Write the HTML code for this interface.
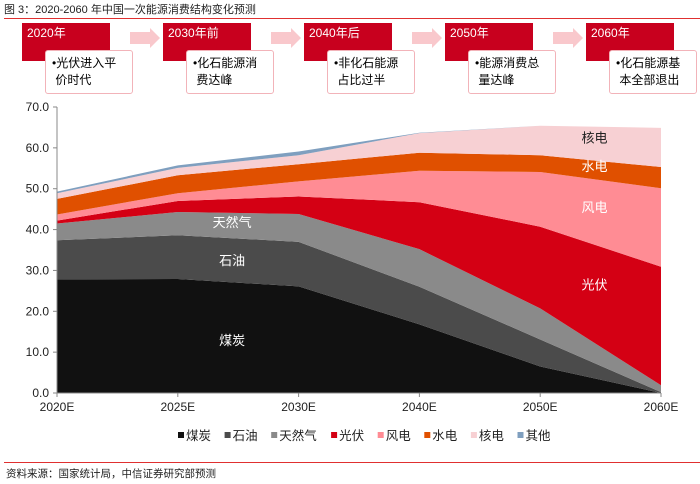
<!DOCTYPE html>
<html><head><meta charset="utf-8"><style>
body{margin:0;width:700px;height:484px;background:#fff;font-family:"Liberation Sans","Noto Sans CJK SC",sans-serif;position:relative;overflow:hidden}
.abs{position:absolute}
.rb{position:absolute;width:88px;height:38px;background:#c8001e;color:#fff;font-size:12px;line-height:20px;padding-left:5px;box-sizing:border-box;top:23px}
.wb{position:absolute;width:88px;height:44px;background:#fff;border:1px solid #f2b3b9;border-radius:3px;box-sizing:border-box;top:50px;font-size:12px;line-height:17px;padding:4px 3px 0 6px;color:#000}
</style></head><body>
<div class="abs" style="left:4px;top:1px;font-size:11px;color:#222">图 3：2020-2060 年中国一次能源消费结构变化预测</div>
<div class="abs" style="left:4px;top:18px;width:696px;height:1px;background:#e03030"></div>
<div id="tl"></div>
<svg id="chart" class="abs" style="left:0;top:0" width="700" height="484"></svg>
<div class="abs" style="left:4px;top:462px;width:696px;height:1px;background:#e03030"></div>
<div class="abs" style="left:6px;top:466px;font-size:10.5px;color:#222">资料来源：国家统计局，中信证券研究部预测</div>
<script>
const categories=["2020E","2025E","2030E","2040E","2050E","2060E"];
const coal=[27.8,27.9,26.1,16.8,6.5,0];
const oil=[9.6,10.7,10.9,9.2,6.6,0.2];
const gas=[4.1,5.7,6.8,9.2,7.6,1.7];
const solar=[0.7,2.7,4.3,11.5,20.0,29.0];
const wind=[1.5,1.9,3.7,7.7,13.4,19.2];
const hydro=[3.8,4.4,4.2,4.4,4.1,5.2];
const nuclear=[1.4,1.8,2.2,4.8,7.2,9.6];
const other=[0.4,0.6,0.9,0.1,0,0];
const seriesNames=["煤炭","石油","天然气","光伏","风电","水电","核电","其他"];
const yTicks=[0,10,20,30,40,50,60,70];
const years=["2020年","2030年前","2040年后","2050年","2060年"];
const notes=[["光伏进入平","价时代"],["化石能源消","费达峰"],["非化石能源","占比过半"],["能源消费总","量达峰"],["化石能源基","本全部退出"]];

const tl=document.getElementById('tl');
const bx=[22,163,304,445,586];
years.forEach((y,i)=>{
 const r=document.createElement('div');r.className='rb';r.style.left=bx[i]+'px';r.textContent=y;
 
 
 tl.appendChild(r);
 const w=document.createElement('div');w.className='wb';w.style.left=(bx[i]+23)+'px';
 w.innerHTML='•'+notes[i][0]+'<br>&nbsp;'+notes[i][1];
 
 
 tl.appendChild(w);
 if(i<4){const a=document.createElement('div');a.className='abs';
  a.style.cssText='left:'+(bx[i]+108)+'px;top:28px;width:32px;height:20px;';
  a.innerHTML='<svg width="32" height="20"><polygon points="0,4 20,4 20,0 30,10 20,20 20,16 0,16" fill="#f9c8cc"/></svg>';
  
  
  tl.appendChild(a);}
});

const NS='http://www.w3.org/2000/svg';
const svg=document.getElementById('chart');
const x0=57,x1=661,yb=393,yt=107;
const xs=i=>x0+i*(x1-x0)/(categories.length-1);
const ys=v=>yb-v*(yb-yt)/70;
function el(t,a){const e=document.createElementNS(NS,t);for(const k in a)e.setAttribute(k,a[k]);svg.appendChild(e);return e;}
const data=[coal,oil,gas,solar,wind,hydro,nuclear,other];
const colors=["#111111","#4b4b4b","#8a8a8a","#d40014","#ff8c94","#e05000","#f7d0d3","#7f9fbf"];
const names=["coal","oil","gas","solar","wind","hydro","nuclear","other"];
let base=categories.map(()=>0);
data.forEach((s,k)=>{
 const top=base.map((b,i)=>b+s[i]);
 let pts=top.map((v,i)=>xs(i)+','+ys(v));
 for(let i=categories.length-1;i>=0;i--)pts.push(xs(i)+','+ys(base[i]));
 const p=el('polygon',{points:pts.join(' '),fill:colors[k]});
 
 
 base=top;
});
el('line',{x1:x0,y1:yt,x2:x0,y2:yb,stroke:'#888','stroke-width':1});
el('line',{x1:x0,y1:yb,x2:x1,y2:yb,stroke:'#888','stroke-width':1});
yTicks.forEach(v=>{
 el('line',{x1:x0-4,y1:ys(v),x2:x0,y2:ys(v),stroke:'#888'});
 const t=el('text',{x:x0-8,y:ys(v)+4,'text-anchor':'end','font-size':12,fill:'#222'});t.textContent=v.toFixed(1);
 
 
});
categories.forEach((c,i)=>{
 el('line',{x1:xs(i),y1:yb,x2:xs(i),y2:yb+4,stroke:'#888'});
 const t=el('text',{x:xs(i),y:yb+18,'text-anchor':'middle','font-size':12,fill:'#222'});t.textContent=c;
 
 
});
function lab(txt,i,v,col){const t=el('text',{x:xs(i),y:ys(v)+5,'text-anchor':'middle','font-size':13,fill:col});t.textContent=txt;
 
 }
lab("煤炭",1.45,13,"#fff");lab("石油",1.45,32.5,"#fff");lab("天然气",1.45,41.8,"#fff");
lab("光伏",4.45,26.5,"#fff");lab("风电",4.45,45.5,"#fff");lab("水电",4.45,55.5,"#fff");lab("核电",4.45,62.5,"#222");
let lx=178;
seriesNames.forEach((n,k)=>{
 el('rect',{x:lx,y:432,width:6,height:6,fill:colors[k]});
 const t=el('text',{x:lx+8,y:440,'font-size':12.5,fill:'#222'});t.textContent=n;
 
 
 lx+=20+n.length*13.3;
});
</script>
</body></html>
